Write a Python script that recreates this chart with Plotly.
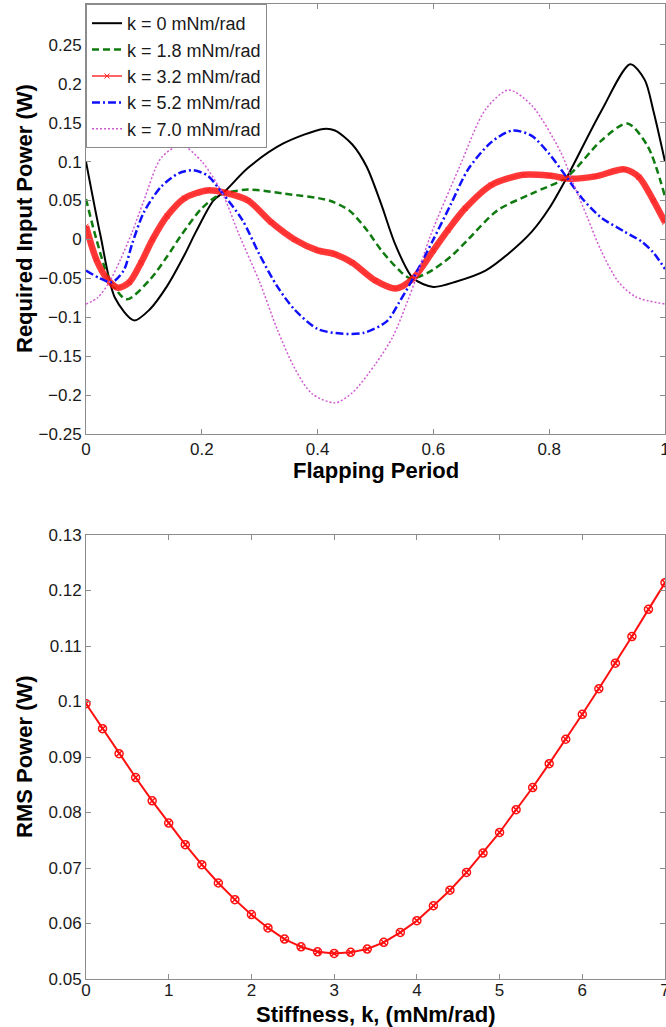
import plotly.graph_objects as go

# ---- Required input power over one flapping period, per spring stiffness ----
t_k0 = [0, 0.025, 0.05, 0.083, 0.11, 0.14, 0.17, 0.19, 0.22, 0.24, 0.28, 0.34, 0.41, 0.43,
        0.46, 0.485, 0.51, 0.535, 0.565, 0.60, 0.64, 0.69, 0.73, 0.77, 0.80, 0.83, 0.89,
        0.94, 0.965, 0.98, 1.0]
p_k0 = [0.100, 0.005, -0.075, -0.104, -0.09, -0.06, -0.02, 0.01, 0.05, 0.062, 0.092, 0.123,
        0.142, 0.14, 0.122, 0.093, 0.045, -0.008, -0.05, -0.061, -0.054, -0.04, -0.018,
        0.01, 0.04, 0.079, 0.165, 0.225, 0.205, 0.165, 0.1]

t_k18 = [0, 0.018, 0.04, 0.07, 0.11, 0.14, 0.165, 0.2, 0.23, 0.28, 0.34, 0.42, 0.455, 0.485,
         0.51, 0.54, 0.56, 0.59, 0.63, 0.66, 0.71, 0.77, 0.83, 0.89, 0.935, 0.97, 1.0]
p_k18 = [0.052, 0.0, -0.05, -0.077, -0.052, -0.022, 0.006, 0.04, 0.057, 0.064, 0.059, 0.05,
         0.037, 0.012, -0.014, -0.039, -0.05, -0.043, -0.022, 0.0, 0.037, 0.059, 0.08,
         0.127, 0.149, 0.12, 0.055]

t_k32 = [0, 0.018, 0.036, 0.055, 0.075, 0.095, 0.115, 0.14, 0.17, 0.21, 0.24, 0.28, 0.32,
         0.36, 0.40, 0.43, 0.46, 0.50, 0.535, 0.565, 0.60, 0.625, 0.655, 0.70, 0.755, 0.80,
         0.835, 0.88, 0.93, 0.955, 0.98, 1.0]
p_k32 = [0.017, -0.026, -0.05, -0.062, -0.055, -0.03, 0.0, 0.03, 0.053, 0.063, 0.06, 0.05,
         0.022, 0.0, -0.014, -0.019, -0.03, -0.053, -0.063, -0.05, -0.014, 0.012, 0.04,
         0.07, 0.083, 0.082, 0.078, 0.081, 0.09, 0.08, 0.05, 0.022]

t_k52 = [0, 0.024, 0.045, 0.065, 0.08, 0.1, 0.13, 0.16, 0.185, 0.21, 0.235, 0.27, 0.30, 0.33,
         0.36, 0.40, 0.44, 0.48, 0.52, 0.54, 0.565, 0.60, 0.63, 0.66, 0.70, 0.737, 0.77,
         0.80, 0.83, 0.86, 0.89, 0.93, 0.96, 0.98, 1.0]
p_k52 = [-0.04, -0.05, -0.055, -0.04, -0.005, 0.035, 0.068, 0.085, 0.089, 0.082, 0.06, 0.025,
         -0.02, -0.06, -0.09, -0.115, -0.121, -0.12, -0.105, -0.082, -0.05, 0.0, 0.045,
         0.09, 0.125, 0.14, 0.133, 0.11, 0.08, 0.05, 0.028, 0.01, -0.003, -0.017, -0.038]

t_k70 = [0, 0.02, 0.04, 0.06, 0.08, 0.1, 0.13, 0.165, 0.2, 0.235, 0.265, 0.3, 0.33, 0.36,
         0.39, 0.43, 0.46, 0.5, 0.53, 0.555, 0.57, 0.595, 0.645, 0.69, 0.73, 0.77, 0.82,
         0.84, 0.865, 0.89, 0.92, 0.95, 1.0]
p_k70 = [-0.083, -0.075, -0.055, -0.025, 0.01, 0.05, 0.105, 0.121, 0.1, 0.06, 0.005, -0.055,
         -0.115, -0.165, -0.198, -0.21, -0.197, -0.16, -0.125, -0.08, -0.05, 0.005, 0.093,
         0.167, 0.192, 0.172, 0.112, 0.075, 0.03, -0.015, -0.055, -0.074, -0.083]

# ---- RMS power versus stiffness ----
stiffness = [0.0, 0.2, 0.4, 0.6, 0.8, 1.0, 1.2, 1.4, 1.6, 1.8, 2.0, 2.2, 2.4, 2.6, 2.8, 3.0,
             3.2, 3.4, 3.6, 3.8, 4.0, 4.2, 4.4, 4.6, 4.8, 5.0, 5.2, 5.4, 5.6, 5.8, 6.0, 6.2,
             6.4, 6.6, 6.8, 7.0]
rms_power = [0.0996, 0.0951, 0.0906, 0.0863, 0.0821, 0.0781, 0.0742, 0.0706, 0.0673, 0.0643,
             0.0616, 0.0592, 0.0572, 0.0558, 0.0549, 0.0546, 0.0548, 0.0554, 0.0566, 0.0584,
             0.0605, 0.0632, 0.0660, 0.0692, 0.0727, 0.0764, 0.0805, 0.0845, 0.0888, 0.0932,
             0.0977, 0.1023, 0.1069, 0.1117, 0.1166, 0.1214]

# ---- tick labels ----
period_ticks = [0, 0.2, 0.4, 0.6, 0.8, 1]
period_labels = ["0", "0.2", "0.4", "0.6", "0.8", "1"]
power_ticks = [-0.25, -0.2, -0.15, -0.1, -0.05, 0, 0.05, 0.1, 0.15, 0.2, 0.25]
power_labels = ["\u22120.25", "\u22120.2", "\u22120.15", "\u22120.1", "\u22120.05", "0",
                "0.05", "0.1", "0.15", "0.2", "0.25"]
k_ticks = [0, 1, 2, 3, 4, 5, 6, 7]
k_labels = ["0", "1", "2", "3", "4", "5", "6", "7"]
rms_ticks = [0.05, 0.06, 0.07, 0.08, 0.09, 0.10, 0.11, 0.12, 0.13]
rms_labels = ["0.05", "0.06", "0.07", "0.08", "0.09", "0.1", "0.11", "0.12", "0.13"]

FONT = "Liberation Sans, Arial, Helvetica, sans-serif"
AXIS_GRAY = "#8c8c8c"
W, H = 666, 1027
M_L, M_R, M_T, M_B = 86, 1, 4, 48
plot_h = H - M_T - M_B
top_lo = (H - M_B - 434) / plot_h
bot_hi = (H - M_B - 535) / plot_h

fig = go.Figure()

spl = dict(shape="spline", smoothing=0.8)

fig.add_trace(go.Scatter(x=t_k0, y=p_k0, mode="lines", name="k = 0 mNm/rad",
                         line=dict(color="black", width=2, **spl),
                         xaxis="x", yaxis="y"))
fig.add_trace(go.Scatter(x=t_k18, y=p_k18, mode="lines", name="k = 1.8 mNm/rad",
                         line=dict(color="#0f7a0f", width=2.5, dash="7px,4px", **spl),
                         xaxis="x", yaxis="y"))
# wide red band for the k = 3.2 curve, thin line with cross markers on top
fig.add_trace(go.Scatter(x=t_k32, y=p_k32, mode="lines", showlegend=False,
                         line=dict(color="rgba(255,0,0,0.78)", width=6.5, **spl),
                         hoverinfo="skip", xaxis="x", yaxis="y"))
fig.add_trace(go.Scatter(x=t_k32, y=p_k32, mode="lines+markers", name="k = 3.2 mNm/rad",
                         line=dict(color="#ff3030", width=1.5, **spl),
                         marker=dict(symbol="x-thin", size=5,
                                     line=dict(color="#ff2020", width=1)),
                         xaxis="x", yaxis="y"))
fig.add_trace(go.Scatter(x=t_k52, y=p_k52, mode="lines", name="k = 5.2 mNm/rad",
                         line=dict(color="#1010ff", width=2.5, dash="8px,3px,2px,3px", **spl),
                         xaxis="x", yaxis="y"))
fig.add_trace(go.Scatter(x=t_k70, y=p_k70, mode="lines", name="k = 7.0 mNm/rad",
                         line=dict(color="#d05ad0", width=1.5, dash="2px,2px", **spl),
                         xaxis="x", yaxis="y"))

fig.add_trace(go.Scatter(x=stiffness, y=rms_power, mode="lines+markers", showlegend=False,
                         line=dict(color="#ff1010", width=2),
                         marker=dict(symbol="circle-x-open", size=8,
                                     line=dict(color="#ff1010", width=1.5)),
                         xaxis="x2", yaxis="y2"))

axis_common = dict(showgrid=False, zeroline=False, showline=True, linecolor=AXIS_GRAY,
                   linewidth=1, mirror="ticks", ticks="inside", ticklen=5,
                   tickcolor=AXIS_GRAY, tickwidth=1, automargin=False,
                   ticklabeloverflow="allow",
                   tickfont=dict(family=FONT, size=17, color="#1a1a1a"))

fig.update_layout(
    width=W, height=H,
    margin=dict(l=M_L, r=M_R, t=M_T, b=M_B),
    paper_bgcolor="white", plot_bgcolor="white",
    font=dict(family=FONT),
    xaxis=dict(domain=[0, 1], range=[0, 1], anchor="y", tickmode="array",
               tickvals=period_ticks, ticktext=period_labels, **axis_common),
    yaxis=dict(domain=[top_lo, 1], range=[-0.25, 0.3025], anchor="x", tickmode="array",
               tickvals=power_ticks, ticktext=power_labels, **axis_common),
    xaxis2=dict(domain=[0, 1], range=[0, 7], anchor="y2", tickmode="array",
                tickvals=k_ticks, ticktext=k_labels, ticklabelstandoff=-4, **axis_common),
    yaxis2=dict(domain=[0, bot_hi], range=[0.05, 0.13], anchor="x2", tickmode="array",
                tickvals=rms_ticks, ticktext=rms_labels, **axis_common),
    legend=dict(x=0, y=1, xanchor="left", yanchor="top", xref="paper", yref="paper",
                bgcolor="white", bordercolor=AXIS_GRAY, borderwidth=1,
                font=dict(family=FONT, size=18, color="#1a1a1a"),
                itemwidth=30),
    showlegend=True,
)

title_font = dict(family=FONT, size=22, color="black")
fig.add_annotation(text="<b>Required Input Power (W)</b>", xref="paper", yref="paper",
                   x=0, y=(top_lo + 1) / 2, xanchor="center", yanchor="middle",
                   xshift=-62, textangle=-90, showarrow=False, font=title_font)
fig.add_annotation(text="<b>Flapping Period</b>", xref="paper", yref="paper",
                   x=0.5, y=top_lo, xanchor="center", yanchor="middle",
                   yshift=-36, showarrow=False, font=title_font)
fig.add_annotation(text="<b>RMS Power (W)</b>", xref="paper", yref="paper",
                   x=0, y=bot_hi / 2, xanchor="center", yanchor="middle",
                   xshift=-62, textangle=-90, showarrow=False, font=title_font)
fig.add_annotation(text="<b>Stiffness, k, (mNm/rad)</b>", xref="paper", yref="paper",
                   x=0.5, y=0, xanchor="center", yanchor="middle",
                   yshift=-35, showarrow=False, font=title_font)

fig.write_html("out.html")
